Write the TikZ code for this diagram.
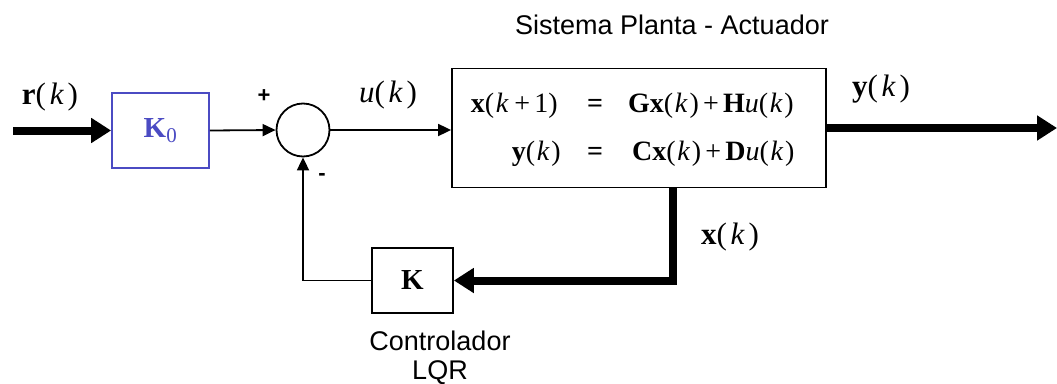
\documentclass[tikz,border=0pt]{standalone}
\usepackage{fontspec}
\setmainfont{Liberation Serif}
\newfontfamily\sansf{Liberation Sans}
\usetikzlibrary{arrows.meta}
\definecolor{kblue}{RGB}{75,75,195}
\newcommand{\kk}{\hspace{0.06em}\textit{k\/}\hspace{0.06em}}
\newcommand{\kl}{\hspace{0.12em}\textit{k\/}\hspace{0.12em}}
\newcommand{\pl}{\hspace{0.15em}+\hspace{0.15em}}
\begin{document}
\begin{tikzpicture}[x=1pt,y=-1pt,
  blk/.style={draw, line width=1.8pt, inner sep=0pt, fill=white},
  thinarrow/.style={line width=1.8pt, -{Triangle[length=13pt,width=12pt]}},
  thickarrow/.style={line width=8pt, -{Triangle[length=20pt,width=24pt]}},
  mtxt/.style={font=\fontsize{28}{32}\selectfont, inner sep=0pt},
  ltxt/.style={font=\fontsize{31}{35}\selectfont, inner sep=0pt},
  stxt/.style={font=\sansf\fontsize{27}{31}\selectfont, inner sep=0pt},
  sgn/.style={font=\sansf\bfseries\fontsize{22}{26}\selectfont, inner sep=0pt}]
\useasboundingbox (0,0) rectangle (1057,383);

\node[blk, draw=kblue, minimum width=97pt, minimum height=75pt] (k0) at (160.5,130.5)
  {\color{kblue}\fontsize{29}{33}\selectfont\textbf{K}\textsubscript{\fontsize{21}{24}\selectfont 0}};
\node[blk, circle, minimum size=53pt] (sum) at (303,130) {};
\node[blk, minimum width=374pt, minimum height=119pt] (plant) at (639,128) {};
\node[blk, minimum width=81pt, minimum height=65pt] (kc) at (412.5,280.5)
  {\fontsize{29}{33}\selectfont\textbf{K}};

% equations
\node[mtxt, anchor=base east] (l1) at (558,112) {\textbf{x}(\kk\pl 1)};
\node[mtxt, anchor=base] (e1) at (595,112) {\textbf{=}};
\node[mtxt, anchor=base west] (r1) at (628,112) {\textbf{Gx}(\kk)\pl\textbf{H}\textit{u}(\kk)};
\node[mtxt, anchor=base east] (l2) at (561,160) {\textbf{y}(\kk)};
\node[mtxt, anchor=base] (e2) at (595,160) {\textbf{=}};
\node[mtxt, anchor=base west] (r2) at (632,160) {\textbf{Cx}(\kk)\pl\textbf{D}\textit{u}(\kk)};

% labels
\node[ltxt, anchor=base] (rl) at (50,104) {\textbf{r}(\kl)};
\node[ltxt, anchor=base] (ul) at (388,102) {\textit{u}(\kl)};
\node[ltxt, anchor=base] (yl) at (881,96) {\textbf{y}(\kl)};
\node[ltxt, anchor=base] (xl) at (730,244) {\textbf{x}(\kl)};
\node[sgn] (plus) at (264,96) {+};
\node[sgn] (minus) at (322,177) {-};
\node[stxt, anchor=base] (sis) at (672,34) {Sistema Planta - Actuador};
\node[stxt, anchor=base] (ctl) at (440,350) {Controlador};
\node[stxt, anchor=base] (lqr) at (440,379) {LQR};

% connectors
\coordinate (rin) at (13,130.5);
\coordinate (yout) at (1057,128);
\coordinate (xtap) at (673,187);
\draw[thickarrow] (rin) -- (k0.west);
\draw[thinarrow] (k0.east) -- (sum.west);
\draw[thinarrow] (sum.east) -- (sum.east -| plant.west);
\draw[thickarrow] (yout -| plant.east) -- (yout);
\draw[thickarrow] (xtap |- plant.south) |- (kc.east);
\draw[thinarrow] (kc.west) -| (sum.south);
\end{tikzpicture}
\end{document}
